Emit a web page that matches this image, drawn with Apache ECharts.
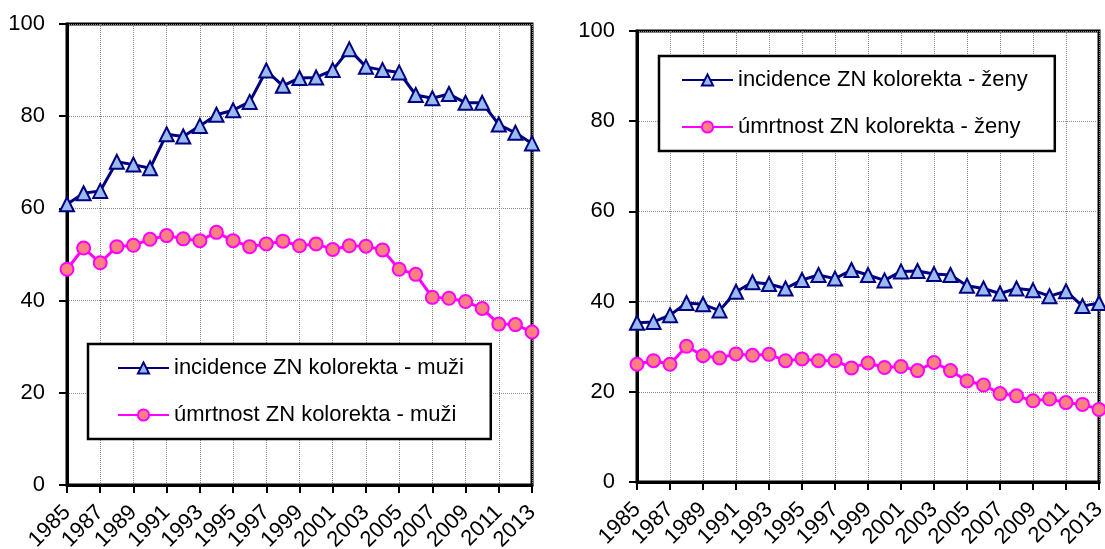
<!DOCTYPE html>
<html>
<head>
<meta charset="utf-8">
<script src="https://cdn.jsdelivr.net/npm/echarts@6/dist/echarts.min.js"></script>
<style>
html,body{margin:0;padding:0;background:#fff;}
#chart{width:1105px;height:549px;}
</style>
</head>
<body>
<div id="chart"></div>
<script>
const years = ['1985','1986','1987','1988','1989','1990','1991','1992','1993','1994','1995','1996','1997','1998','1999','2000','2001','2002','2003','2004','2005','2006','2007','2008','2009','2010','2011','2012','2013'];
const yTicks = [0, 20, 40, 60, 80, 100];
const incMuzi = [60.9,63.3,63.8,70.1,69.5,68.7,76.1,75.6,77.9,80.3,81.3,83.1,89.9,86.6,88.3,88.4,90.0,94.5,90.7,90.0,89.5,84.6,83.9,84.8,82.9,82.9,78.2,76.4,74.1];
const umrMuzi = [46.8,51.4,48.2,51.7,52.0,53.3,54.1,53.4,53.0,54.8,53.0,51.7,52.3,52.9,51.9,52.3,51.1,51.9,51.8,51.0,46.8,45.7,40.7,40.5,39.8,38.3,34.9,34.8,33.2];
const incZeny = [35.3,35.5,37.0,39.7,39.4,38.0,42.2,44.3,43.9,42.9,44.8,45.9,45.1,47.0,45.9,44.7,46.7,46.8,46.1,45.9,43.5,42.9,41.8,42.9,42.5,41.2,42.3,39.0,39.7];
const umrZeny = [26.1,26.9,26.1,30.1,28.0,27.5,28.4,28.1,28.3,26.9,27.3,26.9,26.9,25.3,26.4,25.4,25.6,24.7,26.5,24.7,22.4,21.5,19.6,19.1,18.0,18.4,17.6,17.2,16.1];
const names = {
  incM: 'incidence ZN kolorekta - muži',
  umrM: 'úmrtnost ZN kolorekta - muži',
  incZ: 'incidence ZN kolorekta - ženy',
  umrZ: 'úmrtnost ZN kolorekta - ženy'
};

const FONT = '"Liberation Sans", Arial, sans-serif';
const chart = echarts.init(document.getElementById('chart'), null, {renderer: 'canvas'});

function xAxis(gi) {
  return {
    type: 'category', gridIndex: gi, data: years, boundaryGap: false,
    axisLine: {show: true, lineStyle: {color: '#000', width: 3}},
    axisTick: {show: true, interval: 1, length: 8, lineStyle: {color: '#000', width: 2}},
    axisLabel: {interval: 1, rotate: 45, margin: 24, color: '#000', fontSize: 22, fontFamily: FONT},
    splitLine: {show: true, interval: 1, lineStyle: {color: '#888', type: 'dotted', width: 1}}
  };
}
function yAxis(gi) {
  return {
    type: 'value', gridIndex: gi, min: yTicks[0], max: yTicks[yTicks.length - 1], interval: yTicks[1] - yTicks[0],
    axisLine: {show: true, lineStyle: {color: '#000', width: 3}},
    axisTick: {show: true, length: 8, lineStyle: {color: '#000', width: 2}},
    axisLabel: {margin: 22, color: '#000', fontSize: 22, fontFamily: FONT},
    splitLine: {show: true, lineStyle: {color: '#888', type: 'dotted', width: 1}}
  };
}
function incSeries(name, data, gi) {
  return {
    name: name, type: 'line', xAxisIndex: gi, yAxisIndex: gi, data: data,
    symbol: 'triangle', symbolSize: 14, showSymbol: true, showAllSymbol: true,
    lineStyle: {color: '#000080', width: 3},
    itemStyle: {color: '#99bbee', borderColor: '#000080', borderWidth: 2},
    z: 3
  };
}
function umrSeries(name, data, gi) {
  return {
    name: name, type: 'line', xAxisIndex: gi, yAxisIndex: gi, data: data,
    symbol: 'circle', symbolSize: 13, showSymbol: true, showAllSymbol: true,
    lineStyle: {color: '#ff00ff', width: 3},
    itemStyle: {color: '#ff8080', borderColor: '#ff00ff', borderWidth: 2},
    z: 2
  };
}
function legend(items, left, top, padding) {
  return {
    data: items, orient: 'vertical', left: left, top: top,
    backgroundColor: '#fff', borderColor: '#000', borderWidth: 2.5,
    padding: padding, itemGap: 23, itemWidth: 51, itemHeight: 14,
    textStyle: {color: '#000', fontSize: 22, fontFamily: FONT, lineHeight: 24},
    selectedMode: false
  };
}

chart.setOption({
  animation: false,
  backgroundColor: '#fff',
  grid: [
    {left: 67, top: 24, width: 465, height: 461, outerBoundsMode: 'none', containLabel: false, show: true, borderColor: '#000', borderWidth: 3, backgroundColor: 'transparent'},
    {left: 637, top: 31, width: 462, height: 451, outerBoundsMode: 'none', containLabel: false, show: true, borderColor: '#000', borderWidth: 3, backgroundColor: 'transparent'}
  ],
  xAxis: [xAxis(0), xAxis(1)],
  yAxis: [yAxis(0), yAxis(1)],
  legend: [
    legend([names.incM, names.umrM], 88, 344, [12, 27, 12, 29]),
    legend([names.incZ, names.umrZ], 659, 56, [12, 27, 12, 22])
  ],
  series: [
    incSeries(names.incM, incMuzi, 0),
    umrSeries(names.umrM, umrMuzi, 0),
    incSeries(names.incZ, incZeny, 1),
    umrSeries(names.umrZ, umrZeny, 1)
  ]
});
</script>
</body>
</html>
